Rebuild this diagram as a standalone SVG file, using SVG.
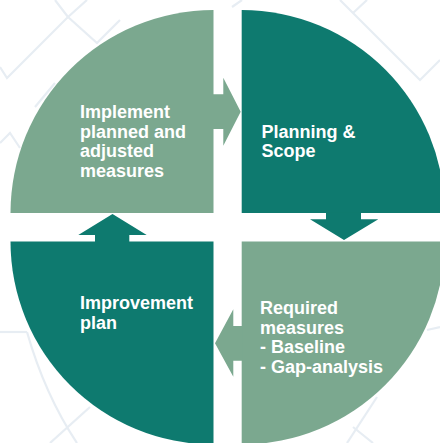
<svg xmlns="http://www.w3.org/2000/svg" width="440" height="443" viewBox="0 0 440 443">
<style>
.bg{fill:none;stroke:#e7edf3;stroke-width:2.2;stroke-linejoin:miter}
.light{fill:#7ba88f}
.dark{fill:#0e7a6f}
.t{font-family:"Liberation Sans",Arial,sans-serif;font-weight:bold;font-size:18px;fill:#ffffff}
</style>
<rect width="440" height="443" fill="#ffffff"/>
<g id="background">
<polyline class="bg" points="0,67 7,78 68,17 55,0"/>
<polyline class="bg" points="68,17 87,0"/>
<polyline class="bg" points="68,17 97,43 120,20"/>
<polyline class="bg" points="35,107 55,83"/>
<polyline class="bg" points="0,143 10,133 20,148"/>
<polyline class="bg" points="232,7 242,0"/>
<polyline class="bg" points="340,0 353,13 420,80 440,60"/>
<polyline class="bg" points="353,13 367,0"/>
<polyline class="bg" points="0,332 27,332"/>
<path class="bg" d="M27,332 Q45,395 77,443"/>
<polyline class="bg" points="50,443 90,407"/>
<polyline class="bg" points="427,330 440,327"/>
<polyline class="bg" points="377,397 347,443"/>
<polyline class="bg" points="353,427 373,443"/>
</g>
<g id="node-implement">
<path class="light" d="M213.5,213 L10.5,213 A203,203 0 0 1 213.5,10 Z"/>
<text class="t" x="80" y="118.3">Implement</text>
<text class="t" x="80" y="137.7">planned and</text>
<text class="t" x="80" y="157.2">adjusted</text>
<text class="t" x="80" y="176.6">measures</text>
</g>
<g id="node-planning">
<path class="dark" d="M241.7,213 L241.7,10 A203,203 0 0 1 444.7,213 Z"/>
<text class="t" x="261.5" y="137.7">Planning &amp;</text>
<text class="t" x="261.5" y="157.2">Scope</text>
</g>
<g id="node-required">
<path class="light" d="M241.7,241.5 L444.7,241.5 A203,203 0 0 1 241.7,444.5 Z"/>
<text class="t" x="260" y="314.3">Required</text>
<text class="t" x="260" y="333.8">measures</text>
<text class="t" x="260" y="353.3">- Baseline</text>
<text class="t" x="260" y="372.7">- Gap-analysis</text>
</g>
<g id="node-improvement">
<path class="dark" d="M213.5,241.5 L213.5,444.5 A203,203 0 0 1 10.5,241.5 Z"/>
<text class="t" x="80" y="309">Improvement</text>
<text class="t" x="80" y="328.5">plan</text>
</g>
<g id="connectors">
<path class="light" d="M213,94.3 H223.3 V77.7 L240.7,111.7 L223.3,145.7 V129 H213 Z"/>
<path class="dark" d="M326,212.5 V219.3 H310 L344,240 L378.3,219.3 H361 V212.5 Z"/>
<path class="dark" d="M95,242 V235 H78.3 L112.5,214 L146.7,235 H129.3 V242 Z"/>
<path class="light" d="M242.2,326 H233.3 V309.3 L215,343.3 L233.3,376.7 V360.7 H242.2 Z"/>
</g>
</svg>
